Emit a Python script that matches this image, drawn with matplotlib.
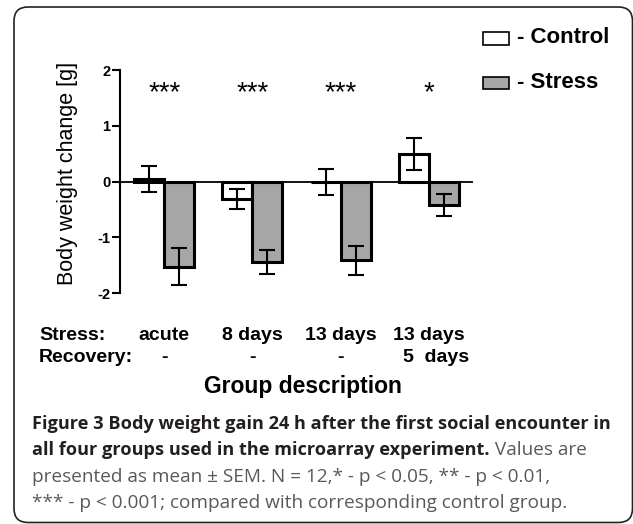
import numpy as np
import matplotlib
matplotlib.use('Agg')
import matplotlib.pyplot as plt
from matplotlib.patches import Rectangle, FancyBboxPatch
import matplotlib.transforms as mtransforms

# data
stress_labels = ['acute', '8 days', '13 days', '13 days']
recovery_labels = ['-', '-', '-', '5  days']
control_mean = [0.04, -0.31, -0.01, 0.49]
control_sem = [0.23, 0.18, 0.24, 0.29]
stress_mean = [-1.53, -1.44, -1.41, -0.42]
stress_sem = [0.33, 0.22, 0.26, 0.19]
stars = ['***', '***', '***', '*']
y_ticks = [-2, -1, 0, 1, 2]

caption_bold_1 = 'Figure 3 Body weight gain 24 h after the first social encounter in'
caption_bold_2 = 'all four groups used in the microarray experiment.'
caption_reg_2 = ' Values are'
caption_reg_3 = 'presented as mean \u00b1 SEM. N = 12,* - p < 0.05, ** - p < 0.01,'
caption_reg_4 = '*** - p < 0.001; compared with corresponding control group.'

plt.rcParams['font.family'] = ['Liberation Sans', 'DejaVu Sans']
plt.rcParams['axes.unicode_minus'] = False

fig = plt.figure(figsize=(6.33, 5.24), dpi=100)
ax = fig.add_axes([0.1896, 0.4408, 0.5577, 0.4256])

x = np.arange(len(stress_labels))
w = 0.34
ekw = dict(elinewidth=1.5, capthick=1.5, zorder=4)
ax.bar(x - w/2, control_mean, w, color='white', edgecolor='black', linewidth=2.2,
       yerr=control_sem, capsize=5.5, error_kw=ekw, zorder=3)
ax.bar(x + w/2, stress_mean, w, color='#a6a6a6', edgecolor='black', linewidth=2.2,
       yerr=stress_sem, capsize=5.5, error_kw=ekw, zorder=3)
ax.axhline(0, color='black', linewidth=1.3, zorder=2)

for i, s in enumerate(stars):
    ax.text(x[i], 1.46, s, ha='center', va='baseline', fontsize=20)

ax.set_xlim(-0.5, 3.5)
ax.set_ylim(-2, 2)
ax.set_xticks([])
ax.set_yticks(y_ticks)
ax.set_yticklabels([str(t) for t in y_ticks], fontweight='bold')
ax.tick_params(axis='y', direction='out', length=6, width=1.5, labelsize=10.5, pad=1)
for side in ['top', 'right', 'bottom']:
    ax.spines[side].set_visible(False)
ax.spines['left'].set_linewidth(1.5)

fig.text(67/633, 1 - 173/524, 'Body weight change [g]', rotation=90,
         ha='center', va='center', fontsize=15.5)

# group description under the axes
trans = mtransforms.blended_transform_factory(ax.transData, fig.transFigure)
fig.text(39/633, 1 - 335/524, 'Stress:', ha='left', va='center', fontsize=14, fontweight='bold')
fig.text(39/633, 1 - 357/524, 'Recovery:', ha='left', va='center', fontsize=14, fontweight='bold')
for i in range(len(stress_labels)):
    ax.text(x[i], 1 - 335/524, stress_labels[i], transform=trans, ha='center', va='center',
            fontsize=14, fontweight='bold')
    ax.text(x[i] + (0.08 if i == 3 else 0), 1 - 357/524, recovery_labels[i], transform=trans,
            ha='center', va='center', fontsize=14, fontweight='bold')
fig.text(303/633, 1 - 387/524, 'Group description', ha='center', va='center',
         fontsize=16.5, fontweight='bold')

# legend
inch = fig.dpi_scale_trans
fig.add_artist(Rectangle((4.83, 4.79), 0.26, 0.13, facecolor='white', edgecolor='black',
                         linewidth=1.2, transform=inch))
fig.add_artist(Rectangle((4.83, 4.35), 0.26, 0.12, facecolor='#a6a6a6', edgecolor='black',
                         linewidth=1.2, transform=inch))
fig.text(5.17, 4.86, '- Control', transform=inch, ha='left', va='center', fontsize=16, fontweight='bold')
fig.text(5.17, 4.41, '- Stress', transform=inch, ha='left', va='center', fontsize=16, fontweight='bold')

# caption
bold_size = 13.1
reg_size = 13.7
dark = '#231f20'
grey = '#58595b'
fig.text(0.32, 5.24 - 4.29, caption_bold_1, transform=inch, fontsize=bold_size, fontweight='bold',
         family='Open Sans', color=dark, va='baseline')
t2 = fig.text(0.32, 5.24 - 4.555, caption_bold_2, transform=inch, fontsize=bold_size, fontweight='bold',
              family='Open Sans', color=dark, va='baseline')
r = fig.canvas.get_renderer()
bb = t2.get_window_extent(renderer=r)
fig.text(0.32 + bb.width/100, 5.24 - 4.555, caption_reg_2, transform=inch, fontsize=reg_size,
         family='Open Sans', color=grey, va='baseline')
fig.text(0.32, 5.24 - 4.82, caption_reg_3, transform=inch, fontsize=reg_size,
         family='Open Sans', color=grey, va='baseline')
fig.text(0.32, 5.24 - 5.08, caption_reg_4, transform=inch, fontsize=reg_size,
         family='Open Sans', color=grey, va='baseline')

# rounded frame
fig.add_artist(FancyBboxPatch((0.14, 0.015), 6.185, 5.155, boxstyle='round,pad=0,rounding_size=0.14',
                              facecolor='none', edgecolor='#222222', linewidth=1.2, transform=inch))

fig.savefig('out.png', dpi=100)
